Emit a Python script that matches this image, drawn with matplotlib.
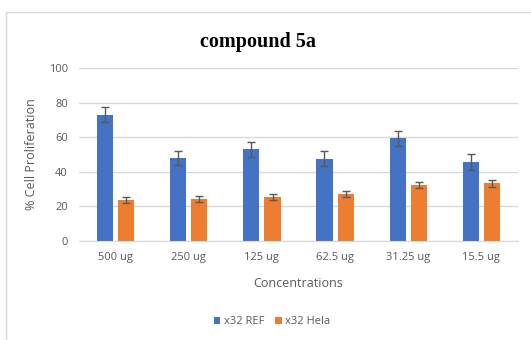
import numpy as np
import matplotlib.pyplot as plt
from matplotlib.patches import Rectangle

# data
concentrations = ['500 ug', '250 ug', '125 ug', '62.5 ug', '31.25 ug', '15.5 ug']
ref_vals = [73.0, 48.2, 53.0, 47.6, 59.5, 45.7]
ref_err = [4.5, 4.0, 4.4, 4.5, 4.3, 4.4]
hela_vals = [23.7, 24.3, 25.4, 27.4, 32.2, 33.3]
hela_err = [1.8, 1.8, 1.7, 1.7, 1.7, 1.8]

plt.rcParams['font.family'] = ['Open Sans', 'DejaVu Sans']

fig = plt.figure(figsize=(5.31, 3.40), dpi=100)
ax = fig.add_axes([79/531, 1-241/340, 439/531, 173/340])

# light chart border like the excel frame
fig.patches.append(Rectangle((6/531, -0.1), 1.2, 1-12/340+0.1, transform=fig.transFigure,
                             fill=False, edgecolor='#d9d9d9', linewidth=1))

x = np.arange(len(concentrations))
w = 0.22
gap = 0.035
ax.bar(x - w/2 - gap, ref_vals, w, color='#4472C4', label='x32 REF',
       yerr=ref_err, capsize=3, error_kw=dict(ecolor='#595959', elinewidth=1, capthick=1))
ax.bar(x + w/2 + gap, hela_vals, w, color='#ED7D31', label='x32 Hela',
       yerr=hela_err, capsize=3, error_kw=dict(ecolor='#595959', elinewidth=1, capthick=1))

ax.set_xlim(-0.5, len(concentrations) - 0.5)
ax.set_ylim(0, 100)
ax.set_yticks(range(0, 101, 20))
ax.set_xticks(x)
ax.set_xticklabels(concentrations)
ax.grid(axis='y', color='#d9d9d9', linewidth=1)
ax.set_axisbelow(True)
for s in ['top', 'right', 'left']:
    ax.spines[s].set_visible(False)
ax.spines['bottom'].set_color('#d9d9d9')
ax.tick_params(axis='both', length=0, labelsize=8, labelcolor='#595959', pad=8)

ax.set_ylabel('% Cell Proliferation', fontsize=9, color='#595959', labelpad=8)
ax.set_xlabel('Concentrations', fontsize=9, color='#595959', labelpad=10)
fig.text(258/531, 1-42/340, 'compound 5a', ha='center', va='center',
         fontsize=14.5, fontweight='bold', family='Liberation Serif')

fig.legend(loc='center', bbox_to_anchor=(272/531, 1-322/340), ncol=2, frameon=False,
           fontsize=8, labelcolor='#595959', handlelength=0.6, handleheight=0.6,
           handletextpad=0.3, columnspacing=1.0)

fig.savefig('out.png', dpi=100)
